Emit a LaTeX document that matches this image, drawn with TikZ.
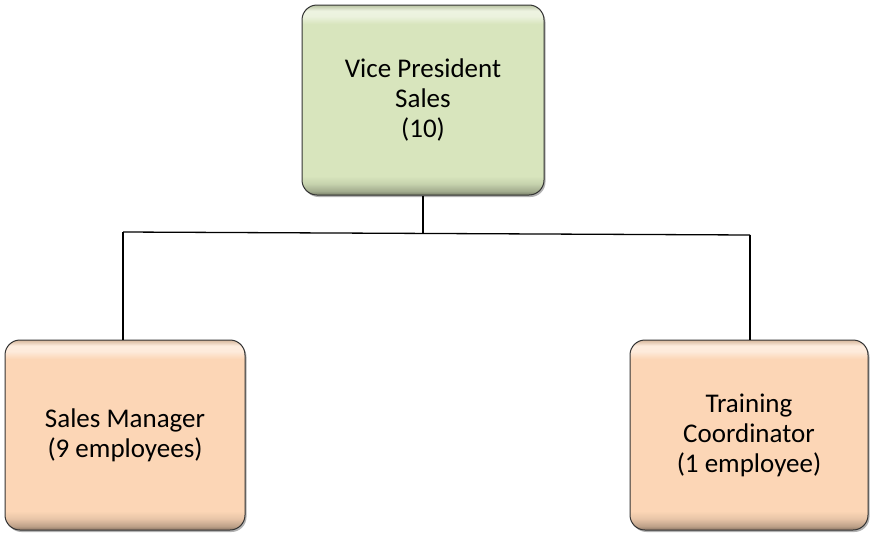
\documentclass[tikz,border=0pt]{standalone}
\usepackage{fontspec}
\setmainfont{Carlito}
\usetikzlibrary{shadows}
\definecolor{vpgreen}{RGB}{216,229,189}
\definecolor{staffpeach}{RGB}{252,214,182}
% bevelled vertical fills: the node's box spans 25bp (bottom) to 75bp (top)
\pgfdeclareverticalshading{vpshade}{100bp}{%
  color(0bp)=(vpgreen!55!black); color(25bp)=(vpgreen!55!black);
  color(26bp)=(vpgreen!75!black); color(28bp)=(vpgreen!92!black);
  color(30bp)=(vpgreen); color(70bp)=(vpgreen);
  color(72bp)=(vpgreen!50!white); color(73.5bp)=(vpgreen!45!white);
  color(75bp)=(vpgreen!85!black); color(100bp)=(vpgreen!85!black)}
\pgfdeclareverticalshading{staffshade}{100bp}{%
  color(0bp)=(staffpeach!55!black); color(25bp)=(staffpeach!55!black);
  color(26bp)=(staffpeach!75!black); color(28bp)=(staffpeach!92!black);
  color(30bp)=(staffpeach); color(70bp)=(staffpeach);
  color(72bp)=(staffpeach!50!white); color(73.5bp)=(staffpeach!45!white);
  color(75bp)=(staffpeach!85!black); color(100bp)=(staffpeach!85!black)}
\tikzset{
  x=1pt, y=-1pt,
  orgbox/.style={draw=black!80, line width=1pt, rounded corners=15pt,
    minimum width=#1, minimum height=190pt, align=center, inner sep=0pt,
    font=\fontsize{27}{30}\selectfont,
    drop shadow={shadow xshift=1.5pt, shadow yshift=-2pt, opacity=0.3, fill=black}},
  vpbox/.style={orgbox=242pt, shading=vpshade},
  staffbox/.style={orgbox=240pt, shading=staffshade},
  link/.style={draw=black, line width=1.3pt}
}
\begin{document}
\begin{tikzpicture}
\useasboundingbox (0,0) rectangle (870,533);
\node[vpbox] (vp) at (423,100) {Vice President\\Sales\\(10)};
\node[staffbox] (sm) at (125,435) {Sales Manager\\(9 employees)};
\node[staffbox, minimum width=238pt] (tc) at (749,435) {Training\\Coordinator\\(1 employee)};
\coordinate (hub) at (423,233);
\coordinate (lft) at (123,232);
\coordinate (rgt) at (750,235);
\draw[link] (vp.south) -- (hub);
\draw[link] (lft) -- (rgt);
\draw[link] (lft) -- (lft |- sm.north);
\draw[link] (rgt) -- (rgt |- tc.north);
\end{tikzpicture}
\end{document}
